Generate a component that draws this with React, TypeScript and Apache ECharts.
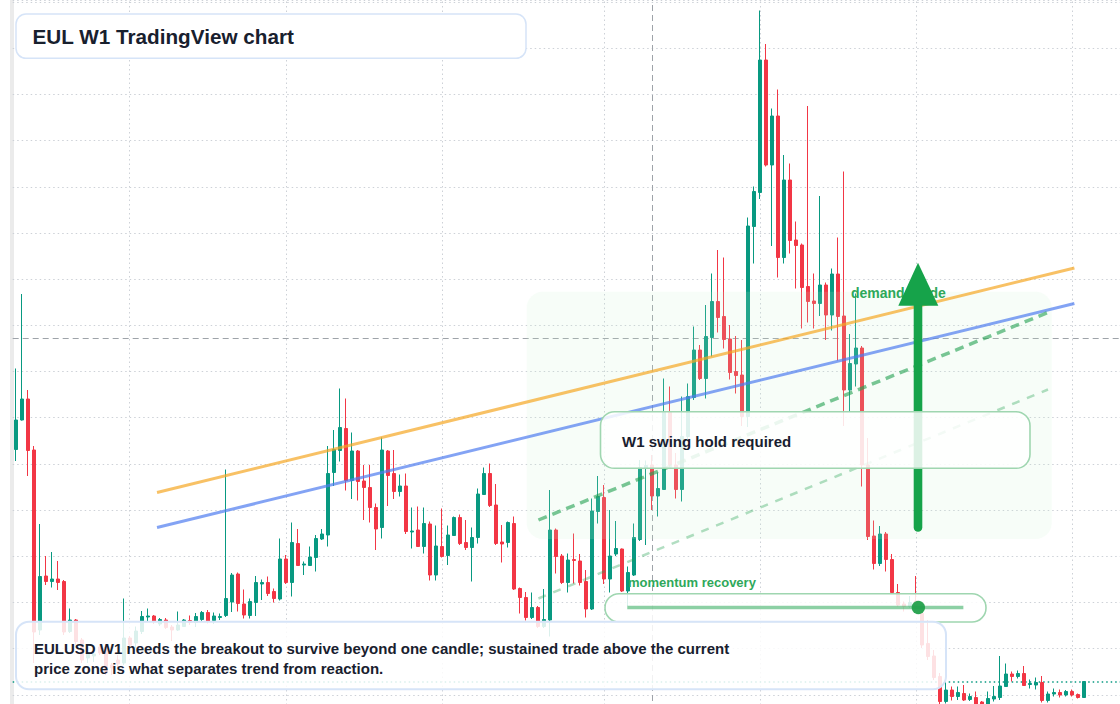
import React, { useEffect, useRef } from "react";
import * as echarts from "echarts";

// Weekly candles: [open, high, low, close]
const ohlc: number[][] = [
  [5.83, 7.45, 5.6, 6.42], [6.42, 8.94, 6.41, 6.84], [6.84, 7.02, 5.3, 5.81], [5.82, 5.9, 1.56, 2.18],
  [2.22, 4.34, 2.12, 3.29], [3.3, 3.7, 3.12, 3.19], [3.19, 3.78, 3.07, 3.24], [3.24, 3.6, 3.02, 3.17],
  [3.19, 3.22, 2.12, 2.18], [2.19, 2.65, 2.16, 2.42], [2.42, 2.44, 1.92, 1.99], [2.02, 2.06, 1.56, 1.62],
  [1.66, 1.89, 1.56, 1.76], [1.7, 1.82, 1.58, 1.74], [1.88, 1.92, 1.72, 1.76], [1.88, 1.94, 1.32, 1.36],
  [1.52, 1.56, 1.32, 1.46], [1.62, 1.72, 1.46, 1.54], [1.56, 2.85, 1.52, 2.06], [2.06, 2.1, 1.82, 1.92],
  [1.96, 2.29, 1.86, 2.2], [2.19, 2.6, 2.14, 2.49], [2.48, 2.65, 2.4, 2.5], [2.5, 2.52, 2.34, 2.39],
  [2.34, 2.46, 2.3, 2.43], [2.42, 2.46, 2.24, 2.27], [2.28, 2.32, 2.0, 2.22], [2.22, 2.59, 2.2, 2.32],
  [2.29, 2.44, 2.28, 2.42], [2.41, 2.51, 2.32, 2.37], [2.37, 2.56, 2.28, 2.49], [2.43, 2.6, 2.38, 2.57],
  [2.57, 2.62, 2.35, 2.4], [2.41, 2.57, 2.34, 2.5], [2.47, 2.55, 2.42, 2.49], [2.51, 5.43, 2.48, 2.85],
  [2.78, 3.36, 2.58, 3.32], [3.34, 3.37, 2.59, 2.75], [2.74, 3.03, 2.45, 2.52], [2.51, 2.85, 2.45, 2.79],
  [2.77, 3.3, 2.5, 3.17], [3.14, 3.23, 2.82, 3.17], [3.17, 3.29, 2.9, 2.95], [2.99, 3.05, 2.77, 2.85],
  [2.84, 4.05, 2.81, 3.64], [3.64, 3.72, 3.14, 3.17], [3.17, 4.37, 2.89, 3.97], [3.95, 4.24, 3.5, 3.51],
  [3.52, 3.59, 3.32, 3.54], [3.51, 3.89, 3.5, 3.68], [3.67, 4.12, 3.39, 4.05], [4.04, 4.24, 4.02, 4.14],
  [4.12, 5.9, 3.89, 5.35], [5.37, 6.22, 5.1, 5.83], [5.81, 7.05, 5.59, 6.27], [6.25, 6.85, 5.01, 5.21],
  [5.21, 6.17, 4.84, 5.8], [5.8, 5.82, 4.81, 5.19], [5.2, 5.52, 4.42, 5.07], [5.07, 5.52, 4.37, 4.67],
  [4.67, 4.75, 3.82, 4.24], [4.27, 6.07, 4.05, 5.82], [5.8, 5.82, 4.7, 5.31], [5.35, 5.82, 4.84, 4.99],
  [4.99, 5.33, 4.89, 5.1], [5.1, 5.35, 4.14, 4.19], [4.18, 4.67, 3.85, 4.2], [4.22, 4.69, 3.88, 3.89],
  [3.89, 4.67, 3.75, 4.35], [4.34, 4.39, 3.21, 3.32], [3.32, 4.31, 3.21, 3.9], [3.89, 4.65, 3.67, 3.69],
  [3.71, 4.31, 3.52, 4.12], [4.11, 4.49, 4.1, 4.47], [4.47, 4.53, 3.92, 3.95], [3.97, 4.42, 3.82, 3.87],
  [3.87, 4.27, 3.19, 4.07], [4.07, 5.05, 3.95, 4.94], [4.93, 5.47, 4.92, 5.35], [5.35, 5.55, 4.68, 4.71],
  [4.72, 5.14, 3.92, 3.95], [3.98, 4.32, 3.57, 3.94], [3.97, 4.39, 3.87, 4.37], [4.35, 4.49, 3.02, 3.04],
  [3.05, 3.07, 2.55, 2.87], [2.87, 2.98, 2.41, 2.47], [2.47, 2.97, 2.44, 2.67], [2.67, 2.7, 2.26, 2.29],
  [2.29, 3.04, 2.26, 2.43], [2.42, 5.02, 2.09, 4.22], [4.22, 4.25, 3.35, 3.69], [3.7, 3.74, 3.14, 3.17],
  [3.17, 3.75, 2.97, 3.62], [3.63, 4.15, 3.15, 3.61], [3.6, 3.74, 3.11, 3.17], [3.19, 3.42, 2.47, 2.64],
  [2.64, 4.85, 2.62, 4.6], [4.59, 5.3, 4.35, 4.89], [4.87, 5.12, 3.14, 3.24], [3.24, 4.62, 2.97, 3.7],
  [3.74, 4.4, 3.7, 3.85], [3.84, 3.85, 2.98, 3.0], [3.0, 3.49, 2.7, 3.37], [3.32, 4.35, 3.3, 4.07],
  [4.03, 5.62, 4.0, 5.47], [5.45, 5.61, 3.92, 5.51], [5.52, 5.72, 4.62, 4.9], [4.9, 5.37, 4.49, 5.05],
  [5.03, 7.25, 5.02, 6.59], [6.59, 7.09, 5.48, 5.52], [5.52, 5.76, 4.85, 5.03], [5.03, 6.89, 4.79, 6.09],
  [6.09, 7.15, 6.02, 6.89], [6.87, 8.29, 6.82, 7.82], [7.82, 7.92, 7.22, 7.25], [7.25, 8.72, 6.85, 8.09],
  [8.07, 9.35, 7.69, 8.79], [8.79, 9.82, 8.17, 8.47], [8.49, 9.67, 7.85, 8.03], [8.04, 8.32, 7.23, 7.37],
  [7.39, 8.1, 6.95, 7.31], [7.32, 8.02, 6.3, 6.49], [6.49, 10.47, 6.28, 10.3], [10.29, 11.09, 9.55, 10.99],
  [10.97, 14.61, 10.84, 13.62], [13.62, 13.94, 11.49, 11.52], [11.52, 12.65, 9.9, 12.5], [12.5, 13.03, 9.27, 9.67],
  [9.67, 11.72, 9.55, 11.22], [11.22, 11.55, 9.75, 10.01], [10.02, 10.39, 9.05, 9.91], [9.92, 9.95, 8.25, 9.07],
  [9.09, 12.7, 8.37, 8.79], [8.8, 9.35, 8.25, 8.75], [8.75, 10.9, 8.5, 9.12], [9.12, 9.17, 8.02, 8.52],
  [8.52, 9.45, 8.21, 9.34], [9.34, 10.07, 7.61, 8.49], [8.5, 11.39, 6.3, 7.02], [7.02, 8.14, 6.59, 7.55],
  [7.54, 8.95, 7.09, 7.86], [7.86, 7.9, 5.09, 5.52], [5.52, 6.06, 4.02, 4.09], [4.1, 4.41, 3.43, 3.55],
  [3.55, 4.3, 3.5, 4.14], [4.14, 4.18, 3.39, 3.63], [3.63, 3.74, 2.96, 2.97], [2.97, 3.14, 2.69, 2.72],
  [2.74, 2.79, 2.59, 2.69], [2.69, 2.9, 2.66, 2.77], [2.8, 3.3, 2.58, 2.7], [2.55, 2.6, 1.86, 1.92],
  [1.95, 2.42, 1.62, 1.69], [1.7, 1.82, 1.22, 1.27], [1.29, 1.36, 0.74, 0.79], [0.79, 1.17, 0.75, 1.02],
  [1.02, 1.09, 0.81, 0.89], [0.89, 1.09, 0.82, 0.97], [0.95, 1.12, 0.8, 0.82], [0.83, 0.95, 0.8, 0.89],
  [0.87, 0.99, 0.72, 0.74], [0.78, 0.8, 0.7, 0.72], [0.72, 0.99, 0.7, 0.85], [0.84, 1.1, 0.79, 0.89],
  [0.87, 1.7, 0.82, 1.1], [1.09, 1.55, 1.08, 1.34], [1.34, 1.39, 1.19, 1.29], [1.29, 1.41, 1.25, 1.35],
  [1.35, 1.5, 1.1, 1.11], [1.13, 1.23, 1.05, 1.15], [1.12, 1.27, 1.03, 1.17], [1.17, 1.3, 0.77, 0.81],
  [0.81, 0.99, 0.77, 0.94], [0.94, 1.05, 0.89, 0.97], [0.97, 1.03, 0.87, 0.92], [0.92, 1.02, 0.89, 0.99],
  [0.99, 1.03, 0.89, 0.92], [0.93, 0.95, 0.85, 0.87], [0.87, 1.2, 0.86, 1.19],
];

const EXTRA_SLOTS = 6; // empty weeks on the right edge
const weeks: string[] = Array.from({ length: ohlc.length + EXTRA_SLOTS }, (_, i) => {
  const d = new Date(Date.UTC(2022, 0, 3 + 7 * i));
  return d.toISOString().slice(0, 10);
});

// Annotation lines in [week index, price]
const trendOrange = [[23.55, 4.97], [176.4, 9.46]];
const trendBlue = [[23.55, 4.27], [176.4, 8.75]];
const guideStrong = [[87.1, 4.42], [172.0, 8.57]];
const guideSoft = [[87.1, 2.85], [172.0, 7.03]];
const momentumLevel = [[101.9, 2.67], [157.9, 2.67]];
const momentumPoint = [[150.4, 2.67]];
const monthGrid = [19, 45, 71, 98, 124, 150, 176];
const crossIndex = 106;
const crossPrice = 8.06;
const priceMin = 0;
const priceMax = 14.82;
const priceStep = 0.9236;

const titleText = "EUL W1 TradingView chart";
const noteLines = [
  "EULUSD W1 needs the breakout to survive beyond one candle; sustained trade above the current",
  "price zone is what separates trend from reaction.",
];
const zoneLabel = "demand guide";
const holdLabel = "W1 swing hold required";
const momentumLabel = "momentum recovery";

const FONT = '"Liberation Sans", Arial, Helvetica, sans-serif';
const UP = "#089981";
const DOWN = "#f23645";
const INK = "#18202e";
const GREEN_TXT = "#2ea85a";

// the plot area runs past the bottom of the 704px page, down to price 0
const PLOT_W = 1123;
const PLOT_H = 741;

function txt(x: number, y: number, text: string, size: number, fill: string, z: number) {
  return {
    type: "text",
    z,
    x,
    y,
    style: {
      text,
      font: `bold ${size}px ${FONT}`,
      fill,
      textAlign: "left",
      align: "left",
      textVerticalAlign: "middle",
      verticalAlign: "middle",
    },
  };
}

export default function App() {
  const ref = useRef<HTMLDivElement>(null);

  useEffect(() => {
    if (!ref.current) return;
    const chart = echarts.init(ref.current, undefined, { renderer: "svg" });
    const lastClose = ohlc[ohlc.length - 1][3];

    const option: any = {
      animation: false,
      backgroundColor: "#ffffff",
      grid: { left: 12.7, right: 0, top: 0, bottom: 0, containLabel: false },
      xAxis: [
        {
          type: "category",
          data: weeks,
          boundaryGap: true,
          show: false,
        },
        {
          type: "value",
          min: -0.5,
          max: weeks.length - 0.5,
          show: false,
        },
      ],
      yAxis: {
        type: "value",
        min: priceMin,
        max: priceMax,
        interval: priceStep,
        axisLine: { show: false },
        axisTick: { show: false },
        axisLabel: { show: false },
        splitLine: { show: true, lineStyle: { color: "#cdd1d7", width: 1, type: [1.5, 3] } },
      },
      series: [
        {
          type: "line",
          xAxisIndex: 1,
          z: 1,
          data: [[-5, -5]],
          showSymbol: false,
          silent: true,
          lineStyle: { opacity: 0 },
          markLine: {
            z: 1,
            silent: true,
            symbol: ["none", "none"],
            label: { show: false },
            animation: false,
            data: [
              ...monthGrid.map((i) => ({
                xAxis: i,
                lineStyle: { color: "#cdd1d7", width: 1, type: [1.5, 3] },
              })),
              { xAxis: crossIndex, lineStyle: { color: "#9ea3a9", width: 1, type: [6, 4] } },
              { yAxis: crossPrice, lineStyle: { color: "#9ea3a9", width: 1, type: [6, 4] } },
              { yAxis: lastClose, lineStyle: { color: UP, width: 1.5, type: [1.5, 3] } },
            ],
          },
        },
        {
          type: "candlestick",
          xAxisIndex: 0,
          z: 2,
          barWidth: 3.8,
          clip: false,
          data: ohlc.map(([o, h, l, c]) => [o, c, l, h]),
          itemStyle: {
            color: UP,
            color0: DOWN,
            borderColor: UP,
            borderColor0: DOWN,
            borderWidth: 1,
          },
        },
        {
          type: "line",
          xAxisIndex: 1,
          z: 4,
          data: trendOrange,
          symbol: "none",
          silent: true,
          lineStyle: { color: "rgba(245,166,35,0.7)", width: 3 },
        },
        {
          type: "line",
          xAxisIndex: 1,
          z: 4,
          data: trendBlue,
          symbol: "none",
          silent: true,
          lineStyle: { color: "rgba(79,124,240,0.7)", width: 3 },
        },
        {
          type: "line",
          xAxisIndex: 1,
          z: 4,
          data: guideStrong,
          symbol: "none",
          silent: true,
          lineStyle: { color: "rgba(34,160,80,0.6)", width: 3.5, type: [9, 6] },
        },
        {
          type: "line",
          xAxisIndex: 1,
          z: 4,
          data: guideSoft,
          symbol: "none",
          silent: true,
          lineStyle: { color: "rgba(34,160,80,0.35)", width: 2.5, type: [8, 8] },
        },
        {
          type: "line",
          xAxisIndex: 1,
          z: 9,
          data: momentumLevel,
          symbol: "none",
          silent: true,
          lineStyle: { color: "rgba(46,170,90,0.55)", width: 3.5 },
        },
        {
          type: "scatter",
          xAxisIndex: 1,
          z: 10,
          data: momentumPoint,
          symbolSize: 13.4,
          silent: true,
          itemStyle: { color: "#22a04b", opacity: 0.95 },
        },
      ],
      graphic: [
        { type: "rect", z: 0, silent: true, shape: { x: 10, y: 0, width: 4, height: 704 }, style: { fill: "#ebebeb" } },
        {
          type: "rect",
          z: 3,
          silent: true,
          shape: { x: 526.7, y: 291.7, width: 525, height: 247.3, r: 16 },
          style: { fill: "rgba(200,240,210,0.15)" },
        },
        txt(851, 293, zoneLabel, 14, GREEN_TXT, 5),
        {
          type: "rect",
          z: 6,
          silent: true,
          shape: { x: 913.7, y: 300, width: 8.6, height: 231.7, r: 4.3 },
          style: { fill: "#16a34a" },
        },
        {
          type: "polygon",
          z: 6,
          silent: true,
          shape: { points: [[898.3, 305.7], [938.3, 305.7], [918, 262.7]] },
          style: { fill: "#16a34a" },
        },
        {
          type: "rect",
          z: 7,
          silent: true,
          shape: { x: 600.5, y: 411.7, width: 429.5, height: 56.6, r: 14 },
          style: { fill: "rgba(255,255,255,0.85)", stroke: "#9fd6b0", lineWidth: 1.6 },
        },
        txt(622, 441.5, holdLabel, 15, INK, 8),
        {
          type: "rect",
          z: 7,
          silent: true,
          shape: { x: 605, y: 593.7, width: 381, height: 28.3, r: 14 },
          style: { fill: "rgba(255,255,255,0.85)", stroke: "#9fd6b0", lineWidth: 1.6 },
        },
        txt(628, 582.7, momentumLabel, 13, GREEN_TXT, 8),
        {
          type: "rect",
          z: 7,
          silent: true,
          shape: { x: 16, y: 621.7, width: 930, height: 67.6, r: 13 },
          style: { fill: "rgba(255,255,255,0.85)", stroke: "#d6e4f8", lineWidth: 2 },
        },
        txt(34, 648, noteLines[0], 15, INK, 8),
        txt(34, 668, noteLines[1], 15, INK, 8),
        {
          type: "rect",
          z: 7,
          silent: true,
          shape: { x: 16, y: 14, width: 510, height: 44.3, r: 10 },
          style: { fill: "#ffffff", stroke: "#d6e4f8", lineWidth: 1.5 },
        },
        txt(32.5, 36.3, titleText, 20.7, INK, 8),
      ],
    };

    chart.setOption(option);
    return () => {
      chart.dispose();
    };
  }, []);

  return (
    <div
      ref={ref}
      style={{ position: "fixed", left: 0, top: 0, width: PLOT_W, height: PLOT_H, background: "#ffffff" }}
    />
  );
}
